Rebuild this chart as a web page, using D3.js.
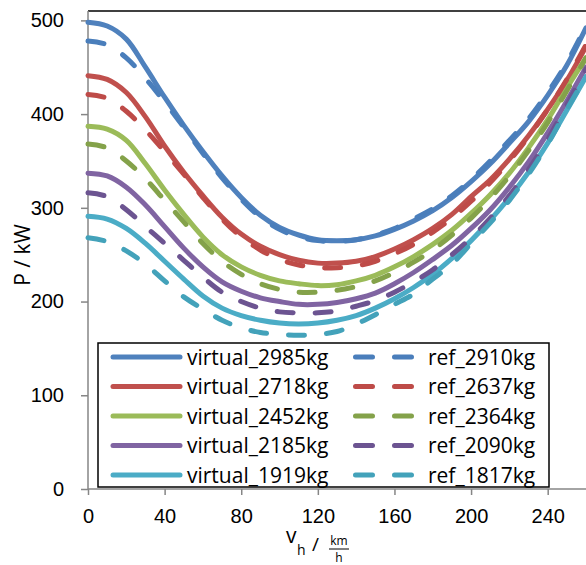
<!DOCTYPE html>
<html lang="en">
<head>
  <meta charset="UTF-8" />
  <title>P over v_h</title>
  <script src="https://d3js.org/d3.v7.min.js"></script>
  <style>
    body { margin: 0; background: #fff; }
    svg { font-family: "Open Sans", "Liberation Sans", sans-serif; }
    .axis path, .axis line { stroke: #868686; stroke-width: 1.5px; }
    .axis text { font-size: 20px; fill: #000; }
  </style>
</head>
<body>
  <svg width="586" height="565"></svg>
  <script>
    // speeds in km/h
    const speeds = [0, 10, 20, 30, 40, 50, 60, 70, 80, 90, 100, 110, 120, 130, 140, 150, 160, 170, 180, 190, 200, 210, 220, 230, 240, 250, 260];
    // power in kW
    const virtual2985 = [498, 494, 480, 450, 418, 388, 360, 334, 311, 292, 279, 271, 266, 265, 266, 270, 277, 286, 297, 311, 328, 347, 369, 392, 420, 452, 492];
    const virtual2718 = [441, 437, 423, 397, 366, 338, 313, 290, 272, 259, 250, 244, 241, 241, 243, 248, 256, 266, 278, 293, 312, 330, 352, 377, 405, 436, 472];
    const virtual2452 = [387, 384, 372, 347, 319, 293, 269, 250, 237, 228, 222, 219, 217, 218, 222, 228, 237, 248, 261, 276, 294, 314, 337, 364, 394, 428, 460];
    const virtual2185 = [337, 334, 322, 303, 280, 257, 237, 221, 211, 204, 200, 197, 197, 199, 203, 209, 219, 231, 245, 260, 278, 298, 322, 349, 380, 414, 450];
    const virtual1919 = [291, 288, 278, 262, 243, 224, 206, 193, 185, 180, 177, 176, 177, 180, 185, 193, 203, 215, 229, 246, 265, 287, 311, 338, 369, 404, 440];
    const ref2910 = [478, 474, 460, 438, 413, 386, 358, 332, 309, 290, 277, 269, 265, 264, 266, 271, 278, 288, 299, 313, 330, 350, 372, 395, 423, 455, 494];
    const ref2637 = [421, 417, 403, 383, 360, 336, 311, 288, 269, 255, 245, 239, 236, 236, 238, 243, 251, 261, 274, 289, 307, 327, 350, 376, 405, 437, 474];
    const ref2364 = [368, 364, 350, 331, 308, 285, 262, 243, 229, 219, 213, 210, 210, 212, 216, 222, 231, 242, 255, 271, 289, 310, 334, 361, 391, 425, 460];
    const ref2090 = [316, 312, 298, 280, 262, 244, 226, 210, 200, 193, 189, 188, 188, 190, 195, 201, 210, 221, 234, 250, 268, 289, 313, 341, 373, 410, 448];
    const ref1817 = [268, 264, 254, 240, 222, 205, 192, 180, 172, 167, 165, 164, 165, 168, 176, 186, 197, 208, 224, 240, 262, 284, 308, 336, 368, 405, 440];

    const virtualNames = ["virtual_2985kg", "virtual_2718kg", "virtual_2452kg", "virtual_2185kg", "virtual_1919kg"];
    const refNames = ["ref_2910kg", "ref_2637kg", "ref_2364kg", "ref_2090kg", "ref_1817kg"];
    const virtualColors = ["#4f81bd", "#c0504d", "#9bbb59", "#8064a2", "#4bacc6"];
    const refColors = ["#4a7ebb", "#be4b48", "#84a24a", "#6c5491", "#43a2ba"];
    const xTicks = [0, 40, 80, 120, 160, 200, 240];
    const yTicks = [0, 100, 200, 300, 400, 500];

    const virtualSeries = [virtual2985, virtual2718, virtual2452, virtual2185, virtual1919];
    const refSeries = [ref2910, ref2637, ref2364, ref2090, ref1817];

    const svg = d3.select("svg");
    const plotLeft = 88, plotRight = 586, plotTop = 11, plotBottom = 489;

    const x = d3.scaleLinear().domain([0, 260]).range([plotLeft, plotRight]);
    const y = d3.scaleLinear().domain([0, 510]).range([plotBottom, plotTop]);

    // plot frame top
    svg.append("line")
      .attr("x1", plotLeft).attr("x2", plotRight)
      .attr("y1", plotTop).attr("y2", plotTop)
      .attr("stroke", "#000").attr("stroke-width", 1.5);

    svg.append("g")
      .attr("class", "axis")
      .attr("transform", `translate(${plotLeft},0)`)
      .call(d3.axisLeft(y).tickValues(yTicks).tickSize(7).tickPadding(17))
      .call(g => g.select(".domain").attr("d", `M0,${plotBottom}V${plotTop}`));

    svg.append("g")
      .attr("class", "axis")
      .attr("transform", `translate(0,${plotBottom})`)
      .call(d3.axisBottom(x).tickValues(xTicks).tickSize(6).tickPadding(14))
      .call(g => g.select(".domain").attr("d", `M${plotLeft},0H${plotRight}`));

    const line = d3.line()
      .x((d, i) => x(speeds[i]))
      .y(d => y(d))
      .curve(d3.curveCatmullRom.alpha(0.5));

    const plot = svg.append("g");
    virtualSeries.forEach((s, i) => {
      plot.append("path")
        .attr("d", line(s))
        .attr("fill", "none")
        .attr("stroke", virtualColors[i])
        .attr("stroke-width", 5)
        .attr("stroke-linecap", "round");
    });
    refSeries.forEach((s, i) => {
      plot.append("path")
        .attr("d", line(s))
        .attr("fill", "none")
        .attr("stroke", refColors[i])
        .attr("stroke-width", 5)
        .attr("stroke-linecap", "round")
        .attr("stroke-dasharray", "16,22");
    });

    // legend
    const legend = svg.append("g");
    legend.append("rect")
      .attr("x", 98).attr("y", 343)
      .attr("width", 451).attr("height", 144)
      .attr("fill", "#fff").attr("stroke", "#000").attr("stroke-width", 1.5);

    const rowY = i => 357 + i * 29.5;
    virtualNames.forEach((name, i) => {
      legend.append("line")
        .attr("x1", 113).attr("x2", 180)
        .attr("y1", rowY(i)).attr("y2", rowY(i))
        .attr("stroke", virtualColors[i]).attr("stroke-width", 5)
        .attr("stroke-linecap", "round");
      legend.append("text")
        .attr("x", 187).attr("y", rowY(i) + 7.5)
        .attr("font-size", 21)
        .text(name);
    });
    refNames.forEach((name, i) => {
      legend.append("line")
        .attr("x1", 355.5).attr("x2", 420)
        .attr("y1", rowY(i)).attr("y2", rowY(i))
        .attr("stroke", refColors[i]).attr("stroke-width", 5)
        .attr("stroke-linecap", "round")
        .attr("stroke-dasharray", "17,22");
      legend.append("text")
        .attr("x", 428).attr("y", rowY(i) + 7.5)
        .attr("font-size", 21)
        .text(name);
    });

    // y title
    svg.append("text")
      .attr("transform", "translate(30,255) rotate(-90)")
      .attr("text-anchor", "middle")
      .attr("font-size", 21)
      .text("P / kW");

    // x title: v_h / km/h
    const xt = svg.append("g");
    xt.append("text").attr("x", 286).attr("y", 543).attr("font-size", 21).text("v");
    xt.append("text").attr("x", 297).attr("y", 555).attr("font-size", 14).text("h");
    xt.append("text").attr("x", 312).attr("y", 551).attr("font-size", 19).text("/");
    xt.append("text").attr("x", 339).attr("y", 545).attr("font-size", 12).attr("text-anchor", "middle").text("km");
    xt.append("line").attr("x1", 329).attr("x2", 349).attr("y1", 549).attr("y2", 549)
      .attr("stroke", "#000").attr("stroke-width", 1);
    xt.append("text").attr("x", 339).attr("y", 562).attr("font-size", 12).attr("text-anchor", "middle").text("h");
  </script>
</body>
</html>
